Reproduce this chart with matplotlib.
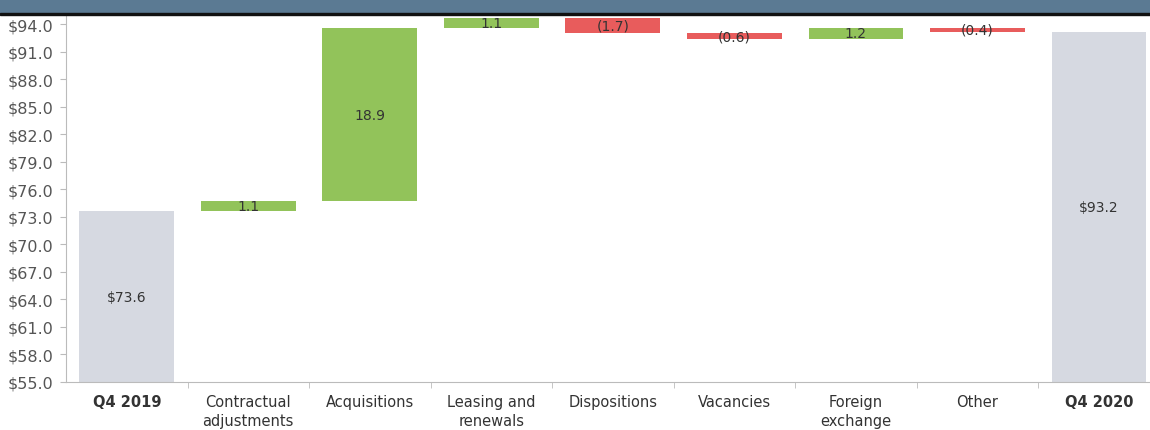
import matplotlib
matplotlib.use("Agg")
import matplotlib.pyplot as plt
from matplotlib.patches import Rectangle
import numpy as np

categories = ["Q4 2019", "Contractual\nadjustments", "Acquisitions", "Leasing and\nrenewals",
              "Dispositions", "Vacancies", "Foreign\nexchange", "Other", "Q4 2020"]
start_value = 73.6
changes = [1.1, 18.9, 1.1, -1.7, -0.6, 1.2, -0.4]
end_value = 93.2
yticks = np.arange(55, 95, 3)

gray = "#d6d9e1"
green = "#92c35a"
red = "#e85c5c"

fig = plt.figure(figsize=(11.5, 4.31), dpi=100)
ax = fig.add_axes([66 / 1150, 48 / 431, 1 - 66 / 1150, 367 / 431])

# totals
ax.bar(0, start_value - 55, bottom=55, width=0.78, color=gray)
ax.bar(8, end_value - 55, bottom=55, width=0.78, color=gray)
ax.text(0, (start_value + 55) / 2, "$%.1f" % start_value, ha="center", va="center", fontsize=10, color="#333333")
ax.text(8, (end_value + 55) / 2, "$%.1f" % end_value, ha="center", va="center", fontsize=10, color="#333333")

# changes
level = start_value
for i, d in enumerate(changes):
    pos = i + 1
    bottom = min(level, level + d)
    ax.bar(pos, abs(d), bottom=bottom, width=0.78, color=green if d > 0 else red)
    label = "%.1f" % d if d > 0 else "(%.1f)" % abs(d)
    ax.text(pos, bottom + abs(d) / 2, label, ha="center", va="center", fontsize=10, color="#333333")
    level += d

ax.set_xlim(-0.5, 8.42)
ax.set_ylim(55, 95)
ax.set_yticks(yticks)
ax.set_yticklabels(["$%.1f" % v for v in yticks], fontsize=11.5, color="#555555")
ax.set_xticks(range(len(categories)))
ax.set_xticklabels(categories, fontsize=10.5, color="#333333", linespacing=1.3)
for lbl in ax.get_xticklabels():
    if lbl.get_text().startswith("Q4"):
        lbl.set_fontweight("bold")
ax.set_xticks(np.arange(0.5, 8, 1), minor=True)
ax.tick_params(axis="x", which="major", length=0, pad=9)
ax.tick_params(axis="x", which="minor", length=4, color="#bbbbbb")
ax.tick_params(axis="y", length=4, color="#bbbbbb", pad=5)

for s in ["top", "right"]:
    ax.spines[s].set_visible(False)
ax.spines["left"].set_color("#bbbbbb")
ax.spines["bottom"].set_color("#bbbbbb")

# header band
fig.patches.append(Rectangle((0, 1 - 14 / 431), 1, 14 / 431, transform=fig.transFigure,
                             color="#5b7a93", zorder=10))
fig.patches.append(Rectangle((0, 1 - 16 / 431), 1, 2 / 431, transform=fig.transFigure,
                             color="#111111", zorder=10))

fig.savefig("out.png", dpi=100)
